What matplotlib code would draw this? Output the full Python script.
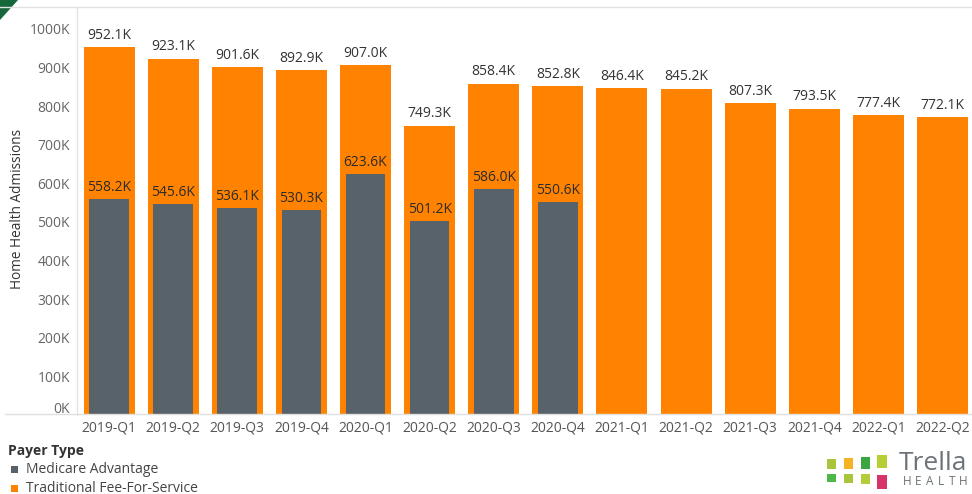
import matplotlib
matplotlib.use("Agg")
import matplotlib.pyplot as plt
from matplotlib.patches import Polygon, Rectangle
from matplotlib.lines import Line2D
from matplotlib.transforms import ScaledTranslation

plt.rcParams['font.family'] = ['Open Sans', 'DejaVu Sans']

quarters = ["2019-Q1", "2019-Q2", "2019-Q3", "2019-Q4", "2020-Q1", "2020-Q2", "2020-Q3",
            "2020-Q4", "2021-Q1", "2021-Q2", "2021-Q3", "2021-Q4", "2022-Q1", "2022-Q2"]
ffs_values = [952.1, 923.1, 901.6, 892.9, 907.0, 749.3, 858.4, 852.8,
              846.4, 845.2, 807.3, 793.5, 777.4, 772.1]
ma_values = [558.2, 545.6, 536.1, 530.3, 623.6, 501.2, 586.0, 550.6]
yticks = [0, 100, 200, 300, 400, 500, 600, 700, 800, 900, 1000]

ORANGE = "#ff8300"
SLATE = "#57626b"
W, H = 972, 494

fig = plt.figure(figsize=(W / 100, H / 100), dpi=100)
fig.patch.set_facecolor("white")


def fx(px):
    return px / W


def fy(py):
    return 1 - py / H


ax = fig.add_axes([fx(77), fy(415), 1 - fx(77), fy(8) - fy(415)])
x = list(range(len(quarters)))

ax.bar(x, ffs_values, width=0.795, color=ORANGE, zorder=2)
ax.bar(x[:len(ma_values)], ma_values, width=0.62, color=SLATE, zorder=3)

for xi, v in zip(x, ffs_values):
    ax.annotate(f"{v:.1f}K", (xi, v), xytext=(0, 3), textcoords="offset points",
                ha="center", va="bottom", fontsize=10, color="#333333", zorder=4)
for xi, v in zip(x, ma_values):
    ax.annotate(f"{v:.1f}K", (xi, v), xytext=(0, 3), textcoords="offset points",
                ha="center", va="bottom", fontsize=10, color="#2b2b2b", zorder=4)

ax.set_xlim(-0.5, 13.46)
ax.set_ylim(0, 1054)
ax.set_xticks(x)
ax.set_xticklabels(quarters, fontsize=10, color="#555555")
ax.set_yticks(yticks)
ax.set_yticklabels([f"{t}K" for t in yticks], fontsize=10, color="#666666")
ax.tick_params(axis="both", length=0)
ax.tick_params(axis="x", pad=4)
ax.tick_params(axis="y", pad=5)
# lift the zero label clear of the baseline
zero_label = ax.get_yticklabels()[0]
zero_label.set_transform(zero_label.get_transform() +
                         ScaledTranslation(0, 8 / 100, fig.dpi_scale_trans))
ax.set_ylabel("Home Health Admissions", fontsize=9.8, color="#333333")
ax.yaxis.set_label_coords(-0.058, 0.506)
for s in ["top", "right", "bottom"]:
    ax.spines[s].set_visible(False)
ax.spines["left"].set_color("#e4e4e4")
ax.spines["left"].set_linewidth(1.0)

# baseline and top frame lines
fig.add_artist(Line2D([fx(5), 1], [fy(414), fy(414)], color="#e0e0e0", lw=1.0))
fig.add_artist(Line2D([0, 1], [fy(7), fy(7)], color="#e2e2e2", lw=1.0))

# corner accent
fig.add_artist(Polygon([[0, 1], [fx(18), 1], [0, fy(20)]], closed=True,
                       facecolor="#16683a", edgecolor="none",
                       transform=fig.transFigure))

# legend
fig.text(fx(8), fy(451), "Payer Type", fontsize=10, fontweight="bold",
         color="#333333", va="center", ha="left")
fig.add_artist(Rectangle((fx(11), fy(473)), fx(7), fy(0) - fy(7), facecolor=SLATE,
                         edgecolor="none", transform=fig.transFigure))
fig.text(fx(26), fy(469), "Medicare Advantage", fontsize=10, color="#444444",
         va="center", ha="left")
fig.add_artist(Rectangle((fx(11), fy(492)), fx(7), fy(0) - fy(7), facecolor=ORANGE,
                         edgecolor="none", transform=fig.transFigure))
fig.text(fx(26), fy(488), "Traditional Fee-For-Service", fontsize=10, color="#444444",
         va="center", ha="left")

# brand mark
tiles = [
    (827, 459, 9, 10, "#a9c53b"), (844, 458, 9, 11, "#f5b324"),
    (861, 457, 9, 12, "#3ba541"), (877, 455, 10, 13, "#b7cf35"),
    (827, 474, 9, 8, "#4cb848"), (844, 474, 9, 9, "#a9c53b"),
    (861, 474, 9, 10, "#b5cc3a"), (877, 475, 10, 14, "#d6336b"),
]
for px, py, w, h, c in tiles:
    fig.add_artist(Rectangle((fx(px), fy(py + h)), fx(w), fy(0) - fy(h),
                             facecolor=c, edgecolor="none", transform=fig.transFigure))
fig.text(fx(899), fy(470), "Trella", fontsize=19, color="#6b7378",
         va="baseline", ha="left")
for i, ch in enumerate("HEALTH"):
    fig.text(fx(907 + i * 11.2), fy(485), ch, fontsize=8.5, color="#6b7378",
             va="baseline", ha="center")

fig.savefig("out.png", dpi=100, facecolor="white")
